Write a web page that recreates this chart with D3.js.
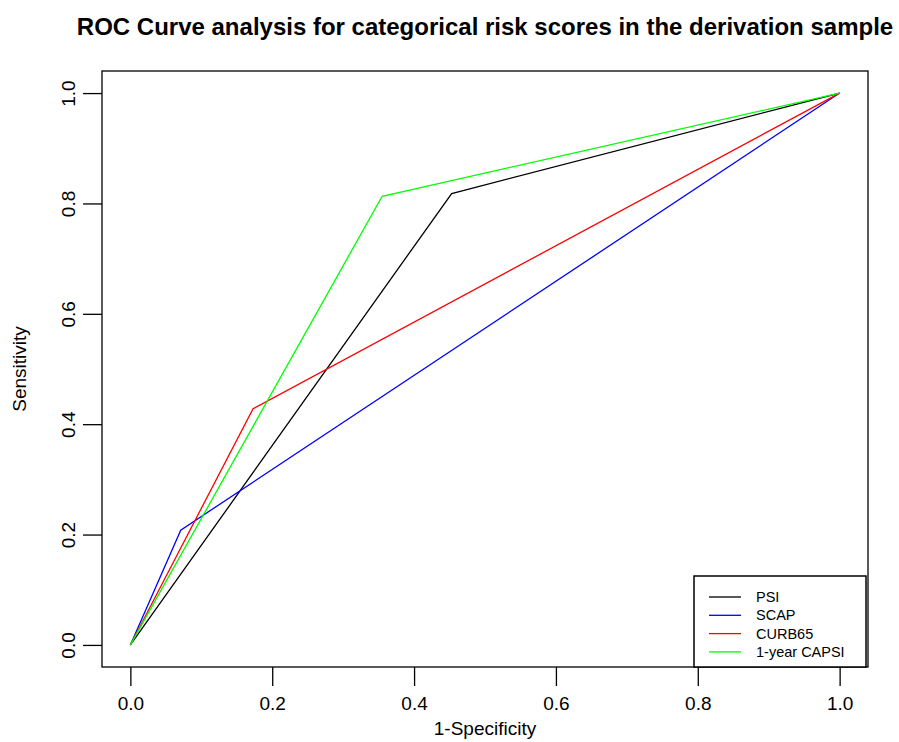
<!DOCTYPE html>
<html>
<head>
<meta charset="utf-8">
<script src="https://cdn.jsdelivr.net/npm/d3@7"></script>
<style>
  body { margin: 0; background: #fff; }
  svg { display: block; font-family: "Liberation Sans", Arial, sans-serif; }
</style>
</head>
<body>
<svg id="chart" width="899" height="742"></svg>
<script>
// ROC operating points (1-specificity, sensitivity) for each categorical score
const seriesNames = ["PSI", "SCAP", "CURB65", "1-year CAPSI"];
const seriesColors = ["#000000", "#0000ff", "#ff0000", "#00ff00"];
const psiFpr = [0, 0.453, 1];
const psiTpr = [0, 0.818, 1];
const scapFpr = [0, 0.071, 1];
const scapTpr = [0, 0.208, 1];
const curbFpr = [0, 0.173, 1];
const curbTpr = [0, 0.428, 1];
const capsiFpr = [0, 0.355, 1];
const capsiTpr = [0, 0.813, 1];
const xTicks = [0, 0.2, 0.4, 0.6, 0.8, 1.0];
const yTicks = [0, 0.2, 0.4, 0.6, 0.8, 1.0];

const series = [
  { fpr: psiFpr, tpr: psiTpr },
  { fpr: scapFpr, tpr: scapTpr },
  { fpr: curbFpr, tpr: curbTpr },
  { fpr: capsiFpr, tpr: capsiTpr }
];

const svg = d3.select("#chart");
const box = { left: 102, right: 868, top: 71, bottom: 667 };
const padX = (box.right - box.left) * 0.04 / 1.08;
const padY = (box.bottom - box.top) * 0.04 / 1.08;

const x = d3.scaleLinear().domain([0, 1]).range([box.left + padX, box.right - padX]);
const y = d3.scaleLinear().domain([0, 1]).range([box.bottom - padY, box.top + padY]);

const tickFont = 19;

// Title
svg.append("text")
  .attr("x", (box.left + box.right) / 2)
  .attr("y", 35)
  .attr("text-anchor", "middle")
  .attr("font-size", 24)
  .attr("font-weight", "bold")
  .text("ROC Curve analysis for categorical risk scores in the derivation sample");

// Curves
const line = d3.line().x(d => x(d[0])).y(d => y(d[1]));
series.forEach((s, i) => {
  svg.append("path")
    .datum(s.fpr.map((v, j) => [v, s.tpr[j]]))
    .attr("d", line)
    .attr("fill", "none")
    .attr("stroke", seriesColors[i])
    .attr("stroke-width", 1.3);
});

// Plot frame
svg.append("rect")
  .attr("x", box.left).attr("y", box.top)
  .attr("width", box.right - box.left).attr("height", box.bottom - box.top)
  .attr("fill", "none").attr("stroke", "#000").attr("stroke-width", 1.3);

// X axis: ticks hang below the frame
const xAxis = svg.append("g")
  .attr("transform", `translate(0,${box.bottom})`)
  .call(d3.axisBottom(x).tickValues(xTicks).tickFormat(d3.format(".1f")).tickSize(19).tickPadding(11));
xAxis.select(".domain").remove();
xAxis.selectAll(".tick line").attr("stroke-width", 1.3);
xAxis.selectAll("text")
  .attr("font-size", tickFont)
  .attr("font-family", "Liberation Sans, Arial, sans-serif")
  .attr("fill", "#000");

// Y axis: labels rotated parallel to the axis
const yAxis = svg.append("g")
  .attr("transform", `translate(${box.left},0)`)
  .call(d3.axisLeft(y).tickValues(yTicks).tickFormat(d3.format(".1f")).tickSize(19));
yAxis.select(".domain").remove();
yAxis.selectAll(".tick line").attr("stroke-width", 1.3);
yAxis.selectAll("text")
  .attr("font-size", tickFont)
  .attr("font-family", "Liberation Sans, Arial, sans-serif")
  .attr("fill", "#000")
  .attr("text-anchor", "middle")
  .attr("x", null)
  .attr("dy", "0.35em")
  .attr("transform", "translate(-34,0) rotate(-90)");

// Axis titles
svg.append("text")
  .attr("x", (box.left + box.right) / 2)
  .attr("y", 735)
  .attr("text-anchor", "middle")
  .attr("font-size", tickFont)
  .text("1-Specificity");
svg.append("text")
  .attr("transform", `translate(26,${(box.top + box.bottom) / 2}) rotate(-90)`)
  .attr("text-anchor", "middle")
  .attr("font-size", tickFont)
  .text("Sensitivity");

// Legend
const lg = { x: 694, y: 576, w: 172, h: 91 };
svg.append("rect")
  .attr("x", lg.x).attr("y", lg.y).attr("width", lg.w).attr("height", lg.h)
  .attr("fill", "#fff").attr("stroke", "#000").attr("stroke-width", 1.5);
seriesNames.forEach((name, i) => {
  const yy = lg.y + 21 + i * 18.3;
  svg.append("line")
    .attr("x1", lg.x + 15).attr("x2", lg.x + 47)
    .attr("y1", yy).attr("y2", yy)
    .attr("stroke", seriesColors[i]).attr("stroke-width", 1.3);
  svg.append("text")
    .attr("x", lg.x + 62).attr("y", yy)
    .attr("dy", "0.35em")
    .attr("font-size", 14.5)
    .text(name);
});
</script>
</body>
</html>
